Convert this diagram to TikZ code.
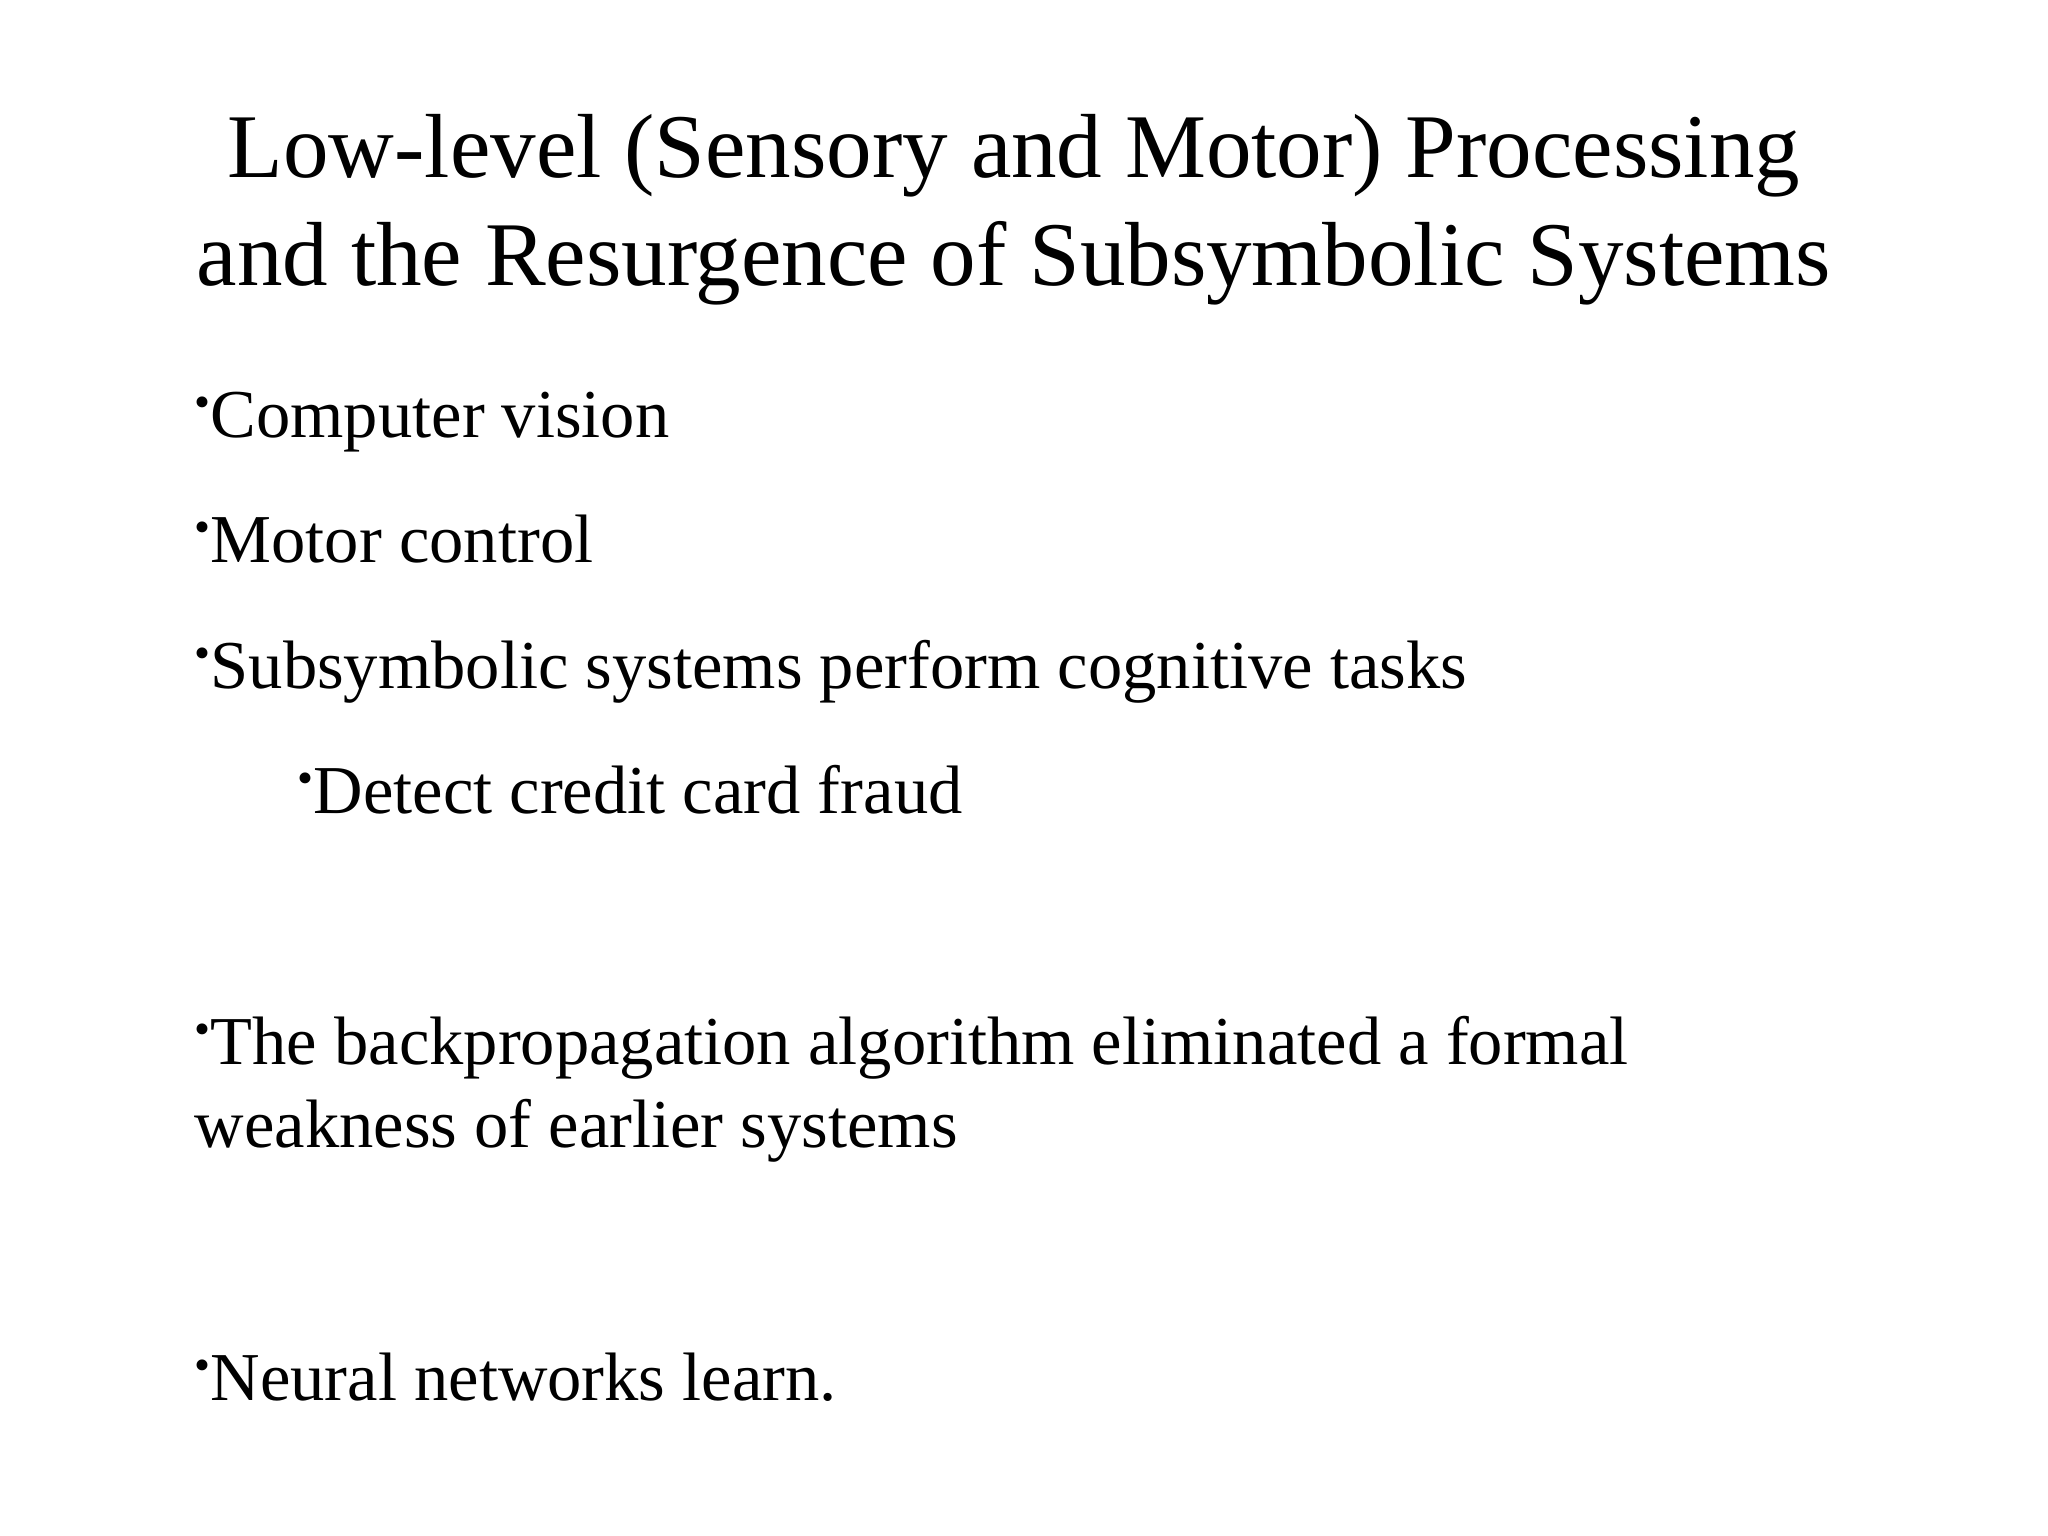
\documentclass[tikz,border=0pt]{standalone}
\usepackage{fontspec}
\setmainfont{Liberation Serif}
\newcommand{\bul}{{\fontsize{13}{13}\selectfont\raisebox{0.45em}{•}}}
\begin{document}
\begin{tikzpicture}[x=1cm,y=1cm,
  title/.style={font=\fontsize{25.9}{31}\selectfont, anchor=base, inner sep=0},
  item/.style={font=\fontsize{19.5}{24}\selectfont, anchor=base west, inner sep=0}]
\useasboundingbox[fill=white] (0,0) rectangle (20.48,15.36);
\node[title] (t1) at (10.14,13.58) {Low-level (Sensory and Motor) Processing};
\node[title] (t2) at (10.14,12.50) {and the Resurgence of Subsymbolic Systems};
\node[item] (b1) at (1.94,10.98) {\bul Computer vision};
\node[item] (b2) at (1.94,9.73) {\bul Motor control};
\node[item] (b3) at (1.94,8.47) {\bul Subsymbolic systems perform cognitive tasks};
\node[item] (b4) at (2.97,7.22) {\bul Detect credit card fraud};
\node[item] (b5) at (1.94,4.71) {\bul The backpropagation algorithm eliminated a formal};
\node[item] (b5b) at (1.94,3.88) {weakness of earlier systems};
\node[item] (b6) at (1.94,1.35) {\bul Neural networks learn.};
\end{tikzpicture}
\end{document}
